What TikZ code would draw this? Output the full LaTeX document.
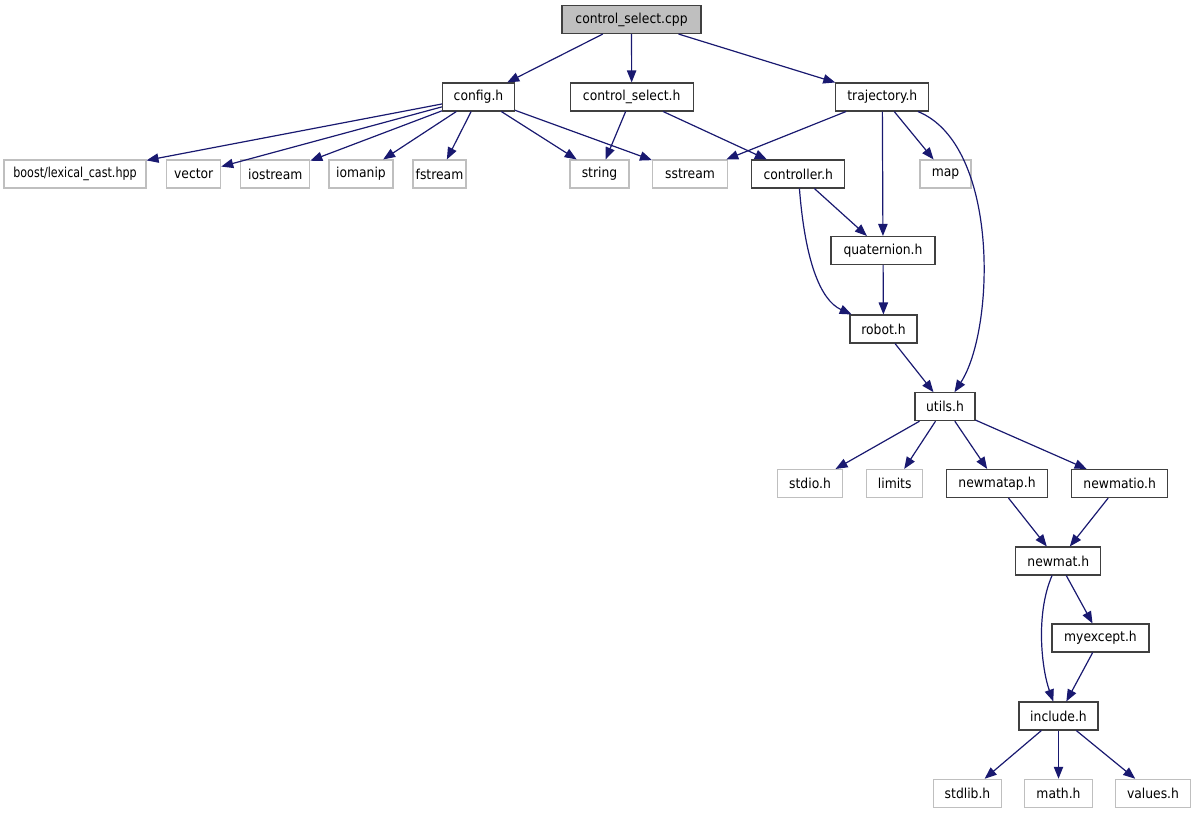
\documentclass[tikz,border=0pt]{standalone}
\usepackage{fontspec}
\usepackage{graphicx}
\setmainfont{DejaVu Sans Condensed}
\usetikzlibrary{arrows.meta}
\definecolor{edgecol}{HTML}{191970}
\definecolor{greyb}{HTML}{BFBFBF}
\definecolor{blkb}{HTML}{404040}
\tikzset{
  box/.style={draw=blkb, line width=0.8pt, minimum height=21pt, inner sep=0pt, font=\fontsize{10.3pt}{12pt}\selectfont, minimum width=#1*0.75pt},
  gbox/.style={box=#1, draw=greyb},
  rootbox/.style={box=#1, fill=greyb},
  edge/.style={draw=edgecol, line width=0.9pt, -{Triangle[length=9pt,width=7pt]}}
}
\begin{document}
\begin{tikzpicture}[x=0.75pt,y=-0.75pt]
\useasboundingbox (0,0) rectangle (1196,813);
\node[rootbox=139] (cpp) at (631.5,19.5) {control\_select.cpp};
\node[box=72] (config) at (478.5,97) {config.h};
\node[box=123] (csh) at (631.7,97) {control\_select.h};
\node[box=93] (traj) at (882.3,97) {trajectory.h};
\node[gbox=142] (boost) at (75,174) {\scalebox{0.9}[1]{boost/lexical\_cast.hpp}};
\node[gbox=54] (vector) at (193.7,174) {vector};
\node[gbox=69] (iostream) at (275.3,174) {iostream};
\node[gbox=64] (iomanip) at (361,174) {iomanip};
\node[gbox=53] (fstream) at (439.5,174) {fstream};
\node[gbox=59] (string) at (599.5,174) {string};
\node[gbox=75] (sstream) at (690,174) {sstream};
\node[box=93] (controller) at (798.3,174) {controller.h};
\node[gbox=51] (map) at (945.5,174) {map};
\node[box=104] (quat) at (883,250.5) {quaternion.h};
\node[box=67] (robot) at (883.5,329) {robot.h};
\node[box=60] (utils) at (945,406.7) {utils.h};
\node[gbox=65] (stdio) at (810,483.5) {stdio.h};
\node[gbox=56] (limits) at (894.7,483.5) {limits};
\node[box=101] (newmatap) at (997,483.5) {newmatap.h};
\node[box=96] (newmatio) at (1119.7,483.5) {newmatio.h};
\node[box=85] (newmat) at (1058.3,561) {newmat.h};
\node[box=97] (myexcept) at (1100.5,638) {myexcept.h};
\node[box=79] (include) at (1058.5,716) {include.h};
\node[gbox=68] (stdlib) at (967.5,793.3) {stdlib.h};
\node[gbox=68] (math) at (1058.5,793.3) {math.h};
\node[gbox=75] (values) at (1153,793.3) {values.h};

\draw[edge] (cpp) -- (config);
\draw[edge] (cpp) -- (csh);
\draw[edge] (cpp) -- (traj);
\draw[edge] (config) -- (boost);
\draw[edge] (config) -- (vector);
\draw[edge] (config) -- (iostream);
\draw[edge] (config) -- (iomanip);
\draw[edge] (config) -- (fstream);
\draw[edge] (config) -- (string);
\draw[edge] (config) -- (sstream);
\draw[edge] (csh) -- (string);
\draw[edge] (csh) -- (controller);
\draw[edge] (traj) -- (sstream);
\draw[edge] (traj) -- (map);
\draw[edge] (traj) -- (quat);
\draw[edge] (traj) .. controls (1000,145) and (995,330) .. (utils);
\draw[edge] (controller) -- (quat);
\draw[edge] (controller) .. controls (805,260) and (820,300) .. (robot);
\draw[edge] (quat) -- (robot);
\draw[edge] (robot) -- (utils);
\draw[edge] (utils) -- (stdio);
\draw[edge] (utils) -- (limits);
\draw[edge] (utils) -- (newmatap);
\draw[edge] (utils) -- (newmatio);
\draw[edge] (newmatap) -- (newmat);
\draw[edge] (newmatio) -- (newmat);
\draw[edge] (newmat) -- (myexcept);
\draw[edge] (newmat) .. controls (1035,615) and (1042,670) .. (include);
\draw[edge] (myexcept) -- (include);
\draw[edge] (include) -- (stdlib);
\draw[edge] (include) -- (math);
\draw[edge] (include) -- (values);
\end{tikzpicture}
\end{document}
